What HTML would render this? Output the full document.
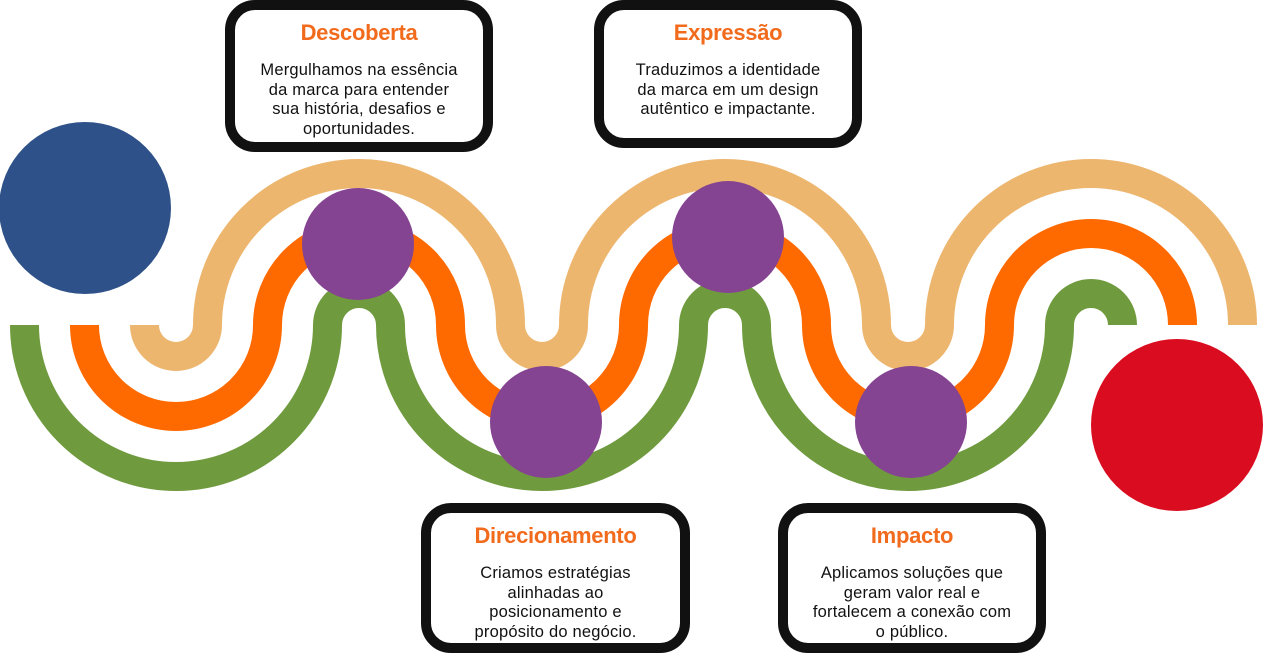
<!DOCTYPE html>
<html><head><meta charset="utf-8"><style>
html,body{margin:0;padding:0;background:#fff;width:1263px;height:655px;overflow:hidden;position:relative;font-family:"Liberation Sans",sans-serif}
svg{position:absolute;left:0;top:0}
.box{position:absolute;box-sizing:border-box;border:10px solid #111;border-radius:30px;background:#fff;text-align:center}
.box h3{margin:0;color:#F26B1D;font-size:22px;font-weight:bold;line-height:26px;font-family:"Liberation Sans",sans-serif;letter-spacing:-0.3px}
.box p{margin:0;color:#111;font-size:16.5px;line-height:19.5px;letter-spacing:0.2px}
</style></head><body>
<svg width="1263" height="655" viewBox="0 0 1263 655">
<g fill="none" stroke-width="29" stroke-linecap="butt">
<path stroke="#EDB66F" d="M144.5 325 A31.5 31.5 0 0 0 207.5 325 A151.5 151.5 0 0 1 510.5 325 A31.5 31.5 0 0 0 573.5 325 A151.5 151.5 0 0 1 876.5 325 A31.5 31.5 0 0 0 939.5 325 A151.5 151.5 0 0 1 1242.5 325"/>
<path stroke="#FF6A00" d="M84.5 325 A91.5 91.5 0 0 0 267.5 325 A91.5 91.5 0 0 1 450.5 325 A91.5 91.5 0 0 0 633.5 325 A91.5 91.5 0 0 1 816.5 325 A91.5 91.5 0 0 0 999.5 325 A91.5 91.5 0 0 1 1182.5 325"/>
<path stroke="#6F9A3E" d="M24.5 325 A151.5 151.5 0 0 0 327.5 325 A31.5 31.5 0 0 1 390.5 325 A151.5 151.5 0 0 0 693.5 325 A31.5 31.5 0 0 1 756.5 325 A151.5 151.5 0 0 0 1059.5 325 A31.5 31.5 0 0 1 1122.5 325"/>
</g>
<circle cx="85" cy="208" r="86" fill="#2E5189"/>
<circle cx="1177" cy="425" r="86" fill="#DA0C1F"/>
<g fill="#854491">
<circle cx="358" cy="244" r="56"/>
<circle cx="546" cy="422" r="56"/>
<circle cx="728" cy="237" r="56"/>
<circle cx="911" cy="422" r="56"/>
</g>
</svg>
<div class="box" style="left:225px;top:0;width:268px;height:152px;padding-top:10px">
<h3>Descoberta</h3><p style="margin-top:15px">Mergulhamos na essência<br>da marca para entender<br>sua história, desafios e<br>oportunidades.</p></div>
<div class="box" style="left:594px;top:0;width:268px;height:148px;padding-top:10px">
<h3>Expressão</h3><p style="margin-top:15px">Traduzimos a identidade<br>da marca em um design<br>autêntico e impactante.</p></div>
<div class="box" style="left:421px;top:503px;width:269px;height:150px;padding-top:10px">
<h3>Direcionamento</h3><p style="margin-top:15px">Criamos estratégias<br>alinhadas ao<br>posicionamento e<br>propósito do negócio.</p></div>
<div class="box" style="left:778px;top:503px;width:268px;height:150px;padding-top:10px">
<h3>Impacto</h3><p style="margin-top:15px">Aplicamos soluções que<br>geram valor real e<br>fortalecem a conexão com<br>o público.</p></div>
</body></html>
